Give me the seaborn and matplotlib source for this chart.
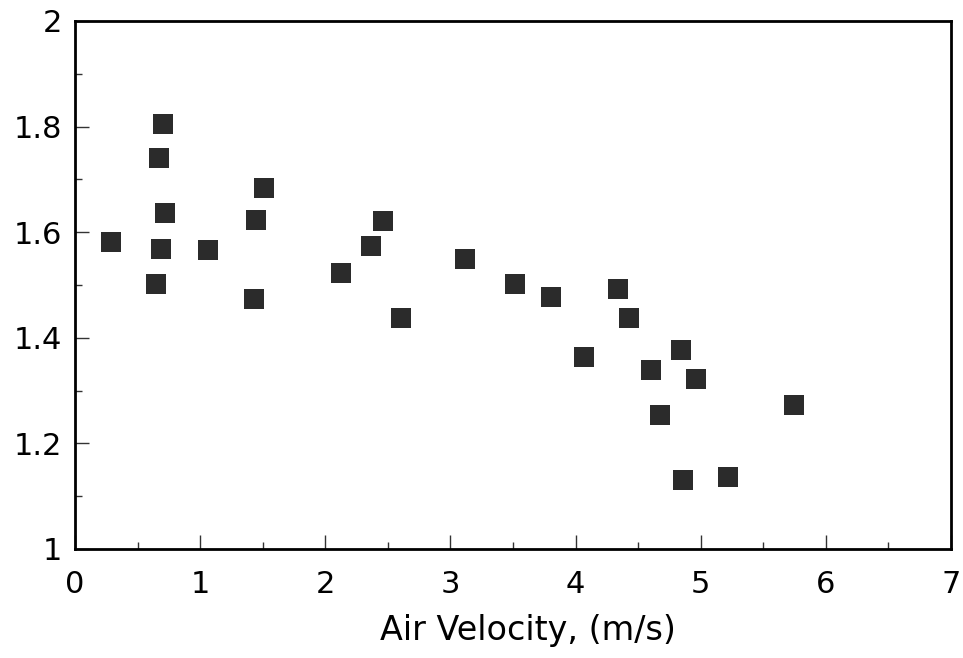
import pandas as pd
import numpy as np
import matplotlib
matplotlib.use("Agg")
import matplotlib.pyplot as plt
import seaborn as sns
from matplotlib.ticker import MultipleLocator

# Step 1: Data
air_velocity = [0.285, 0.706, 0.674, 0.722, 0.685, 0.650, 1.063, 1.446, 1.513, 1.428,
                2.128, 2.365, 2.464, 2.603, 3.119, 3.518, 3.804, 4.067, 4.343, 4.430,
                4.605, 4.675, 4.843, 4.962, 4.856, 5.221, 5.748]
ratio = [1.581, 1.805, 1.740, 1.636, 1.568, 1.501, 1.566, 1.624, 1.684, 1.473,
         1.522, 1.573, 1.621, 1.437, 1.549, 1.502, 1.478, 1.364, 1.493, 1.437,
         1.339, 1.254, 1.377, 1.322, 1.131, 1.136, 1.273]

df = pd.DataFrame({"air_velocity": air_velocity, "ratio": ratio})

# Step 2: Style
sns.set_style("ticks")
plt.rcParams["font.family"] = ["DejaVu Sans"]
plt.rcParams["text.color"] = "black"
plt.rcParams["xtick.color"] = "black"
plt.rcParams["ytick.color"] = "black"

fig = plt.figure(figsize=(9.63, 6.58), dpi=100)
ax = fig.add_axes([0.0779, 0.1657, 0.9096, 0.8024])

# Step 3: Scatter of square markers
sns.scatterplot(data=df, x="air_velocity", y="ratio", marker="s", s=225,
                color="#2b2b2b", edgecolor="#2b2b2b", linewidth=0, ax=ax)

# Step 4: Axes limits and ticks
ax.set_xlim(0, 7)
ax.set_ylim(1, 2)
ax.xaxis.set_major_locator(MultipleLocator(1))
ax.xaxis.set_minor_locator(MultipleLocator(0.5))
ax.yaxis.set_major_locator(MultipleLocator(0.2))
ax.yaxis.set_minor_locator(MultipleLocator(0.1))
ax.yaxis.set_major_formatter(plt.FuncFormatter(lambda v, p: f"{v:g}"))

ax.tick_params(axis="both", which="major", direction="in", length=10, width=1,
               labelsize=22, color="#333333", labelcolor="black")
ax.tick_params(axis="both", which="minor", direction="in", length=5, width=1,
               color="#333333")
ax.tick_params(axis="x", which="major", pad=15)
ax.tick_params(axis="y", which="major", pad=9)

for side in ["top", "right", "bottom", "left"]:
    ax.spines[side].set_visible(True)
    ax.spines[side].set_color("black")
    ax.spines[side].set_linewidth(2)

ax.set_xlabel("Air Velocity, (m/s)", fontsize=24, color="black")
ax.xaxis.set_label_coords(0.5166, -0.155)
ax.xaxis.label.set_verticalalignment("center")
ax.set_ylabel("")

fig.savefig("out.png", dpi=100)
